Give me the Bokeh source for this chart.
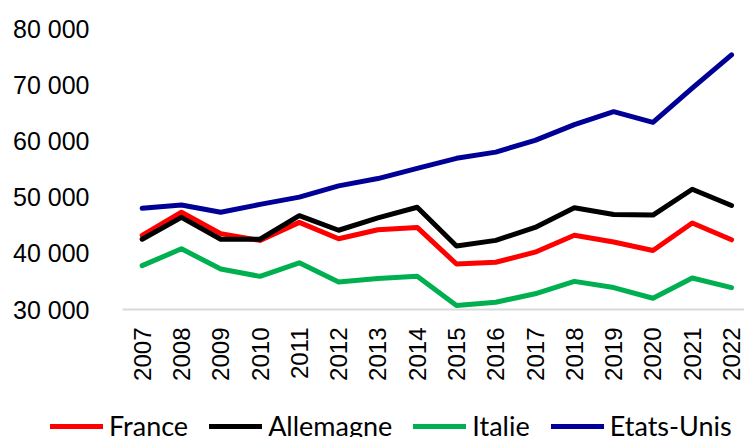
from bokeh.plotting import figure
from bokeh.models import FixedTicker, Range1d, Legend, LegendItem
from bokeh.layouts import column
from bokeh.embed import file_html
from bokeh.resources import INLINE
import math

years = [2007, 2008, 2009, 2010, 2011, 2012, 2013, 2014, 2015, 2016, 2017, 2018, 2019, 2020, 2021, 2022]
france = [43200, 47300, 43500, 42300, 45500, 42600, 44200, 44600, 38100, 38400, 40200, 43200, 42000, 40500, 45400, 42400]
allemagne = [42500, 46400, 42500, 42500, 46700, 44100, 46300, 48200, 41300, 42300, 44600, 48100, 46900, 46800, 51400, 48500]
italie = [37800, 40800, 37200, 35900, 38300, 34900, 35500, 35900, 30700, 31300, 32800, 35000, 33900, 32000, 35600, 33900]
etats_unis = [48000, 48600, 47300, 48700, 50000, 52000, 53300, 55100, 56900, 58000, 60100, 62900, 65200, 63300, 69400, 75300]

series_names = ["France", "Allemagne", "Italie", "Etats-Unis"]
series_colors = ["#FF0000", "#000000", "#00B050", "#000096"]

y_ticks = [30000, 40000, 50000, 60000, 70000, 80000]
y_tick_labels = ["30 000", "40 000", "50 000", "60 000", "70 000", "80 000"]
x_tick_labels = ["2007", "2008", "2009", "2010", "2011", "2012", "2013", "2014",
                 "2015", "2016", "2017", "2018", "2019", "2020", "2021", "2022"]

all_series = [france, allemagne, italie, etats_unis]

# ---- main chart ----
p = figure(frame_width=622, frame_height=281, output_backend="svg", toolbar_location=None,
           x_range=Range1d(2006.5, 2022.33), y_range=Range1d(30000, 80000),
           min_border_left=122, min_border_top=28, min_border_right=0, min_border_bottom=80)
p.outline_line_color = None
p.xgrid.visible = False
p.ygrid.visible = False
p.background_fill_color = "white"
p.border_fill_color = "white"

for name, color, vals in zip(series_names, series_colors, all_series):
    p.line(years, vals, line_color=color, line_width=5, line_cap="round", line_join="round")

yax = p.yaxis[0]
yax.ticker = FixedTicker(ticks=y_ticks)
yax.major_label_overrides = {float(t): l for t, l in zip(y_ticks, y_tick_labels)}
yax.axis_line_color = None
yax.major_tick_line_color = None
yax.minor_tick_line_color = None
yax.major_tick_in = 0
yax.major_tick_out = 0
yax.major_label_standoff = 33
yax.major_label_text_font = "Liberation Sans"
yax.major_label_text_font_size = "25px"
yax.major_label_text_color = "#000000"

xax = p.xaxis[0]
xax.ticker = FixedTicker(ticks=years)
xax.major_label_overrides = {float(t): l for t, l in zip(years, x_tick_labels)}
xax.axis_line_color = "#D9D9D9"
xax.axis_line_width = 2
xax.major_tick_line_color = None
xax.minor_tick_line_color = None
xax.major_tick_in = 0
xax.major_tick_out = 0
xax.major_label_standoff = 18
xax.major_label_orientation = math.pi / 2
xax.major_label_text_font = "Liberation Sans"
xax.major_label_text_font_size = "24px"
xax.major_label_text_color = "#000000"

# ---- legend strip (same series, kept out of view; only legend shows) ----
lg = figure(width=744, height=48, output_backend="svg", toolbar_location=None,
            x_range=Range1d(0, 1), y_range=Range1d(0, 1),
            x_axis_location=None, y_axis_location=None,
            min_border_left=0, min_border_right=0, min_border_top=0, min_border_bottom=0)
lg.outline_line_color = None
lg.xgrid.visible = False
lg.ygrid.visible = False
lg.background_fill_color = "white"
lg.border_fill_color = "white"

items = []
for name, color, vals in zip(series_names, series_colors, all_series):
    r = lg.line(years, vals, line_color=color, line_width=5, line_cap="round")
    items.append(LegendItem(label=name, renderers=[r]))

legend = Legend(items=items, orientation="horizontal", location=(50, -5),
                glyph_width=53, glyph_height=24, label_height=24, label_standoff=6, spacing=21,
                padding=0, margin=0, border_line_color=None, background_fill_alpha=0,
                label_text_font="Lato", label_text_font_size="27px", label_text_color="#000000")
lg.add_layout(legend, "center")

layout = column(p, column(lg, spacing=0), spacing=0)
open("out.html", "w").write(file_html(layout, INLINE))
